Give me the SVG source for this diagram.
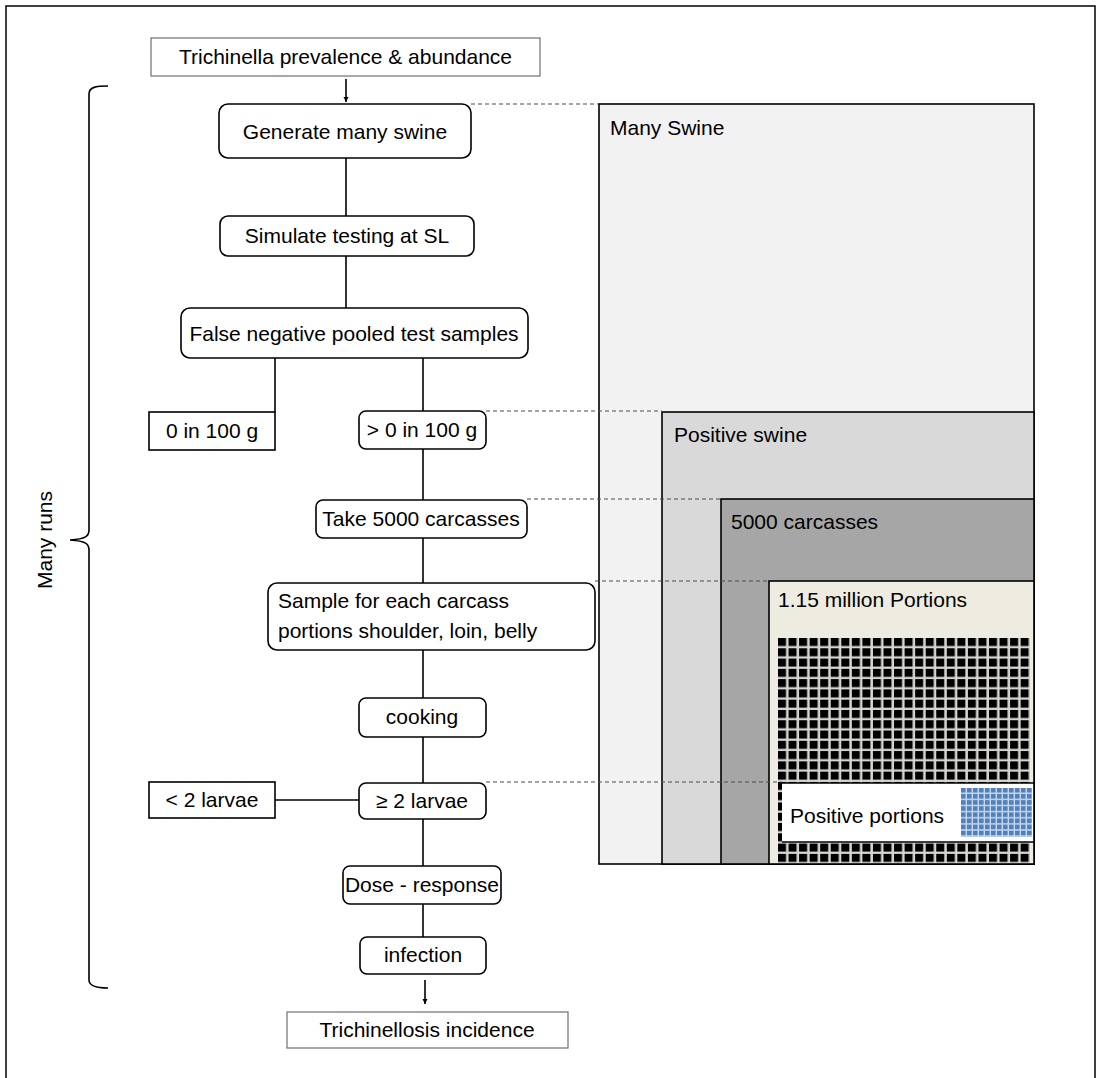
<svg xmlns="http://www.w3.org/2000/svg" width="1097" height="1078" viewBox="0 0 1097 1078">
  <style>
    text { font-family: "Liberation Sans", Arial, sans-serif; font-size: 21px; fill: #000; }
    .c { text-anchor: middle; }
    .rbox { fill: #fff; stroke: #000; stroke-width: 1.6; }
    .sbox { fill: #fff; stroke: #000; stroke-width: 1.6; }
    .io { fill: #fff; stroke: #6f6f6f; stroke-width: 1.2; }
    .link { stroke: #000; stroke-width: 1.6; fill: none; }
    .dash { stroke: #4d4d4d; stroke-width: 1.2; stroke-dasharray: 4 3; fill: none; }
    .lvl { stroke: #000; stroke-width: 1.6; }
  </style>
  <defs>
    <marker id="arrow" viewBox="0 0 10 10" refX="10" refY="5" markerWidth="5" markerHeight="6" markerUnits="userSpaceOnUse" orient="auto">
      <path d="M0,0 L10,5 L0,10 z" fill="#000"/>
    </marker>
    <pattern id="portionGrid" x="778" y="638" width="10.55" height="10.28" patternUnits="userSpaceOnUse">
      <rect x="0" y="0" width="8" height="8" fill="#000"/>
    </pattern>
    <pattern id="positiveGrid" x="961" y="788" width="6" height="6.1" patternUnits="userSpaceOnUse">
      <rect x="0" y="0" width="4.6" height="4.6" fill="#4f81bd"/>
    </pattern>
  </defs>

  <rect x="0" y="0" width="1097" height="1078" fill="#fff"/>
  <!-- frame -->
  <rect x="6" y="6" width="1089" height="1090" fill="none" stroke="#000" stroke-width="1.5"/>

  <!-- nested population boxes -->
  <g id="many-swine">
    <rect class="lvl" x="599" y="104" width="435" height="760" fill="#f2f2f2"/>
    <text x="610" y="135">Many Swine</text>
  </g>
  <g id="positive-swine">
    <rect class="lvl" x="662" y="412" width="372" height="452" fill="#d9d9d9"/>
    <text x="674" y="442">Positive swine</text>
  </g>
  <g id="carcasses">
    <rect class="lvl" x="721" y="499" width="313" height="365" fill="#a6a6a6"/>
    <text x="731" y="529">5000 carcasses</text>
  </g>
  <g id="portions">
    <rect class="lvl" x="769" y="581" width="265" height="283" fill="#eeece1"/>
    <text x="778" y="607">1.15 million Portions</text>
    <rect x="778" y="638" width="252" height="225" fill="#d6d5cf"/>
    <rect x="778" y="638" width="252" height="225" fill="url(#portionGrid)"/>
  </g>
  <g id="positive-portions">
    <rect x="782" y="783" width="252" height="59" fill="#fff"/>
    <path class="link" d="M782,783 H1034 V842 H782"/>
    <text x="790" y="823">Positive portions</text>
    <rect x="961" y="788" width="71" height="49" fill="#c9d6ea"/>
    <rect x="961" y="788" width="71" height="49" fill="url(#positiveGrid)"/>
  </g>

  <!-- connectors -->
  <g id="connectors">
    <line class="link" x1="346" y1="79" x2="346" y2="102" marker-end="url(#arrow)"/>
    <line class="link" x1="346" y1="158" x2="346" y2="216"/>
    <line class="link" x1="346" y1="256" x2="346" y2="308"/>
    <line class="link" x1="275" y1="358" x2="275" y2="412"/>
    <line class="link" x1="423" y1="358" x2="423" y2="411"/>
    <line class="link" x1="423" y1="449" x2="423" y2="500"/>
    <line class="link" x1="423" y1="538" x2="423" y2="583"/>
    <line class="link" x1="423" y1="650" x2="423" y2="698"/>
    <line class="link" x1="423" y1="737" x2="423" y2="783"/>
    <line class="link" x1="275" y1="800" x2="359" y2="800"/>
    <line class="link" x1="423" y1="819" x2="423" y2="866"/>
    <line class="link" x1="423" y1="904" x2="423" y2="937"/>
    <line class="link" x1="425" y1="980" x2="425" y2="1004" marker-end="url(#arrow)"/>
    <!-- guide lines to the population boxes -->
    <line class="dash" x1="471" y1="104" x2="599" y2="104"/>
    <line class="dash" x1="486" y1="411" x2="662" y2="411"/>
    <line class="dash" x1="527" y1="499" x2="721" y2="499"/>
    <line class="dash" x1="595" y1="581" x2="769" y2="581"/>
    <line class="dash" x1="486" y1="782" x2="782" y2="782"/>
    <!-- run brace -->
    <path class="link" d="M108,86 C96,86 89,87 89,94 L89,530 C89,536 86,539 70,540 C86,541 89,544 89,550 L89,980 C89,986 96,988 108,988"/>
  </g>

  <!-- flow nodes -->
  <g id="input">
    <rect class="io" x="151" y="38" width="389" height="38"/>
    <text class="c" x="345.5" y="64">Trichinella prevalence &amp; abundance</text>
  </g>
  <g id="generate">
    <rect class="rbox" x="219" y="104" width="252" height="54" rx="9"/>
    <text class="c" x="345" y="139">Generate many swine</text>
  </g>
  <g id="simulate">
    <rect class="rbox" x="220" y="216" width="254" height="40" rx="8"/>
    <text class="c" x="347" y="243">Simulate testing at SL</text>
  </g>
  <g id="false-negative">
    <rect class="rbox" x="181" y="308" width="347" height="50" rx="9"/>
    <text class="c" x="354" y="341">False negative pooled test samples</text>
  </g>
  <g id="zero">
    <rect class="sbox" x="149" y="412" width="126" height="38"/>
    <text class="c" x="212" y="438">0 in 100 g</text>
  </g>
  <g id="above-zero">
    <rect class="rbox" x="359" y="411" width="127" height="38" rx="7"/>
    <text class="c" x="422" y="437">&gt; 0 in 100 g</text>
  </g>
  <g id="carcass-take">
    <rect class="rbox" x="316" y="500" width="211" height="38" rx="7"/>
    <text class="c" x="421" y="526">Take 5000 carcasses</text>
  </g>
  <g id="sample">
    <rect class="rbox" x="268" y="583" width="327" height="67" rx="9"/>
    <text x="278" y="608">Sample for each carcass</text>
    <text x="278" y="638">portions shoulder, loin, belly</text>
  </g>
  <g id="cooking">
    <rect class="rbox" x="359" y="698" width="127" height="39" rx="7"/>
    <text class="c" x="422" y="724">cooking</text>
  </g>
  <g id="ge-two">
    <rect class="rbox" x="359" y="783" width="127" height="36" rx="7"/>
    <text class="c" x="422" y="808">≥ 2 larvae</text>
  </g>
  <g id="lt-two">
    <rect class="sbox" x="149" y="782" width="126" height="36"/>
    <text class="c" x="212" y="807">&lt; 2 larvae</text>
  </g>
  <g id="dose-response">
    <rect class="rbox" x="343" y="866" width="158" height="38" rx="7"/>
    <text class="c" x="422" y="892">Dose - response</text>
  </g>
  <g id="infection">
    <rect class="rbox" x="360" y="937" width="126" height="37" rx="7"/>
    <text class="c" x="423" y="962">infection</text>
  </g>
  <g id="output">
    <rect class="io" x="287" y="1012" width="281" height="36"/>
    <text class="c" x="427" y="1037">Trichinellosis incidence</text>
  </g>
  <g id="runs-label">
    <text class="c" transform="translate(52,540) rotate(-90)">Many runs</text>
  </g>
</svg>
